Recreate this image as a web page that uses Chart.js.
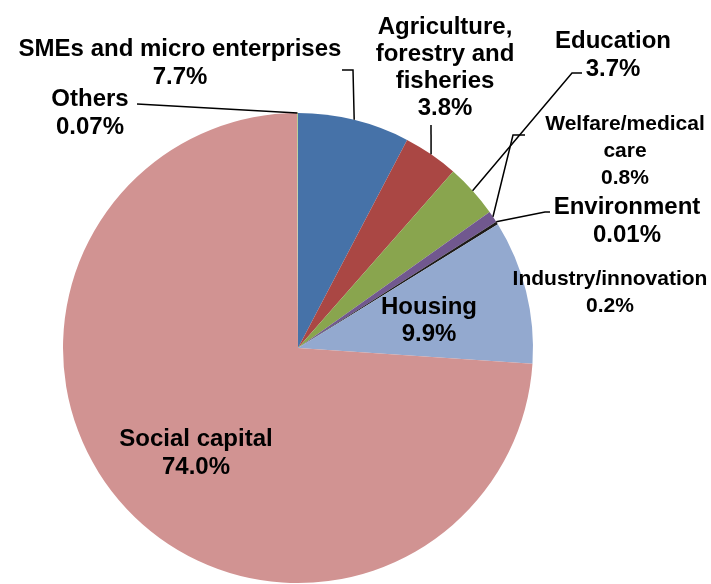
<!DOCTYPE html>
<html>
<head>
<meta charset="utf-8">
<title>Loan allocation by sector</title>
<script src="https://cdn.jsdelivr.net/npm/chart.js@4.4.1/dist/chart.umd.min.js"></script>
<style>
  html, body { margin: 0; padding: 0; background: #fff; }
  #sector-pie { display: block; }
</style>
</head>
<body>
<canvas id="sector-pie" width="711" height="584"></canvas>
<script>
// sectors, clockwise from 12 o'clock
const categories = [
    'SMEs and micro enterprises',
    'Agriculture,\nforestry and\nfisheries',
    'Education',
    'Welfare/medical\ncare',
    'Environment',
    'Industry/innovation',
    'Housing',
    'Social capital',
    'Others'
];
const shares = [7.7, 3.8, 3.7, 0.8, 0.01, 0.2, 9.9, 74.0, 0.07];
const sliceColors = ['#4672A8', '#AA4744', '#89A54E', '#71588F', '#4198AF', '#1e1b18', '#93A9CF', '#D19392', '#B9CD96'];

// where each label sits (centre x, centre of first line) and how its leader runs
const labelSpots = [
    { x: 180, y: 47, size: 24, lh: 28, path: [[353, 70], [342, 70]] },
    { x: 445, y: 25, size: 24, lh: 27.3, path: [[431, 125]] },
    { x: 613, y: 39, size: 24, lh: 28, path: [[572, 73], [582, 73]] },
    { x: 625, y: 122, size: 21, lh: 27, path: [[513, 135], [525, 135]] },
    { x: 627, y: 205, size: 24, lh: 28, path: [[545, 212], [550, 212]] },
    { x: 610, y: 277, size: 21, lh: 27, path: null },
    { x: 429, y: 305, size: 24, lh: 27, path: null },
    { x: 196, y: 437, size: 24, lh: 28, path: null },
    { x: 90, y: 97, size: 24, lh: 28, path: [[137, 104]] }
];

function pct(v) {
    return (v < 0.1 ? v.toFixed(2) : v.toFixed(1)) + '%';
}

const sectorLabels = {
    id: 'sectorLabels',
    afterDatasetsDraw(chart) {
        const ctx = chart.ctx;
        const arcs = chart.getDatasetMeta(0).data;
        ctx.save();
        // leader lines from the middle of each slice's rim
        ctx.strokeStyle = '#000';
        ctx.lineWidth = 1.5;
        arcs.forEach((arc, i) => {
            const spot = labelSpots[i];
            if (!spot.path) return;
            const p = arc.getProps(['x', 'y', 'startAngle', 'endAngle', 'outerRadius'], true);
            const mid = (p.startAngle + p.endAngle) / 2;
            ctx.beginPath();
            ctx.moveTo(p.x + Math.cos(mid) * p.outerRadius, p.y + Math.sin(mid) * p.outerRadius);
            spot.path.forEach(pt => ctx.lineTo(pt[0], pt[1]));
            ctx.stroke();
        });
        // category name + share
        ctx.fillStyle = '#000';
        ctx.textAlign = 'center';
        ctx.textBaseline = 'alphabetic';
        categories.forEach((name, i) => {
            const spot = labelSpots[i];
            const lines = name.split('\n').concat(pct(shares[i]));
            ctx.font = 'bold ' + spot.size + 'px "Liberation Sans", Arial, sans-serif';
            lines.forEach((line, j) => {
                ctx.fillText(line, spot.x, spot.y + j * spot.lh + spot.size * 0.358);
            });
        });
        ctx.restore();
    }
};

new Chart(document.getElementById('sector-pie'), {
    type: 'pie',
    data: {
        labels: categories,
        datasets: [{
            data: shares,
            backgroundColor: sliceColors,
            borderWidth: 0
        }]
    },
    options: {
        responsive: false,
        animation: false,
        devicePixelRatio: 1,
        layout: { padding: { left: 63, right: 178, top: 113, bottom: 1 } },
        plugins: {
            legend: { display: false },
            tooltip: { enabled: true }
        }
    },
    plugins: [sectorLabels]
});
</script>
</body>
</html>
